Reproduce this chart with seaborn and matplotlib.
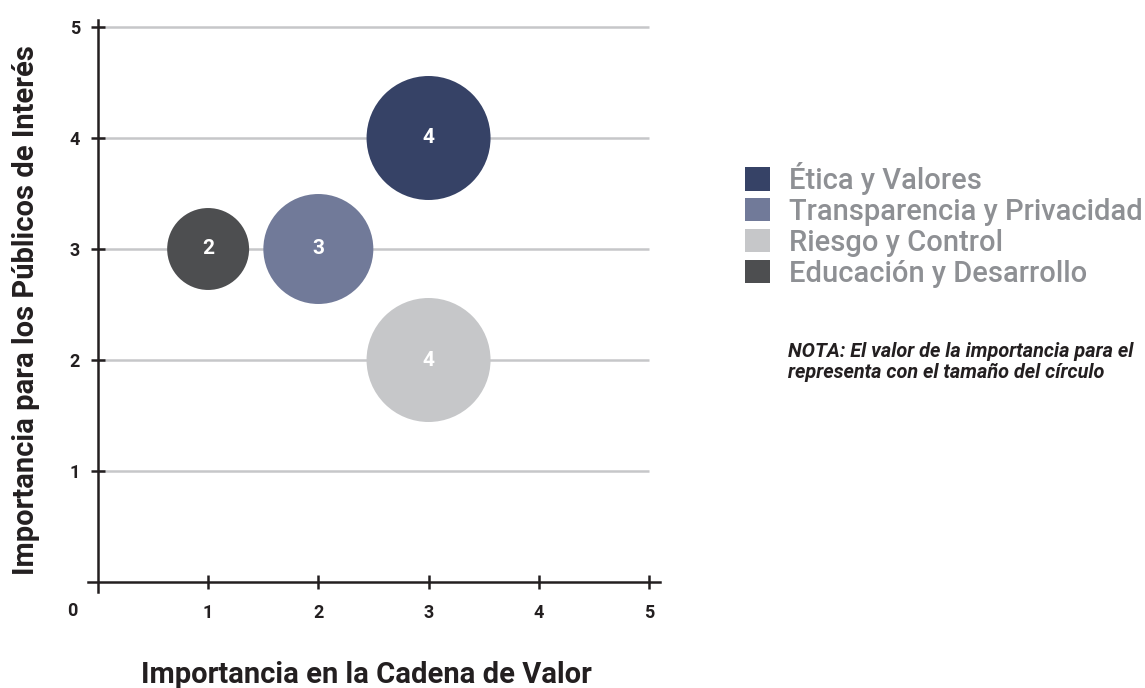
import matplotlib
matplotlib.use("Agg")
import matplotlib.pyplot as plt
import seaborn as sns
import pandas as pd
from matplotlib.patches import Patch

# ---- data ----
categories = ["Ética y Valores", "Transparencia y Privacidad", "Riesgo y Control", "Educación y Desarrollo"]
cadena_valor = [3, 2, 3, 1]          # x: Importancia en la Cadena de Valor
publicos = [4, 3, 2, 3]              # y: Importancia para los Públicos de Interés
importancia = [4, 3, 4, 2]           # bubble size value
x_ticks = [1, 2, 3, 4, 5]
y_ticks = [1, 2, 3, 4, 5]

# ---- style ----
colors = ["#364266", "#717a99", "#c6c7c9", "#4d4e50"]
palette = dict(zip(categories, colors))
size_areas = {2: 3480, 3: 6270, 4: 7970}

sns.set_theme(style="white")
plt.rcParams["font.family"] = ["Roboto", "DejaVu Sans"]

df = pd.DataFrame({"cat": categories, "x": cadena_valor, "y": publicos, "v": importancia})

fig = plt.figure(figsize=(11.45, 6.88), dpi=100)
ax = fig.add_axes([88 / 1145, 96 / 688, 572 / 1145, 572 / 688])

dark = "#231f20"
ax.hlines(y_ticks, 0, 5, colors="#c6c7c9", linewidth=1.8, zorder=0)

sns.scatterplot(data=df, x="x", y="y", hue="cat", size="v", sizes=size_areas,
                palette=palette, linewidth=0, legend=False, ax=ax, zorder=3, alpha=1)

for _, r in df.iterrows():
    ax.text(r["x"], r["y"], str(r["v"]), color="white", fontsize=15, fontweight="bold",
            ha="center", va="center", zorder=4)

ax.set_xlim(-0.09, 5.1)
ax.set_ylim(-0.09, 5.063)
for s in ["top", "right"]:
    ax.spines[s].set_visible(False)
for s in ["left", "bottom"]:
    ax.spines[s].set_position(("data", 0))
    ax.spines[s].set_color(dark)
    ax.spines[s].set_linewidth(1.8)

ax.set_xticks(x_ticks)
ax.set_yticks(y_ticks)
ax.set_xticklabels([str(t) for t in x_ticks])
ax.set_yticklabels([str(t) for t in y_ticks])
ax.tick_params(axis="both", which="major", bottom=True, left=True, direction="inout",
               length=10, width=1.8, color=dark, labelsize=13, labelcolor=dark)
ax.tick_params(axis="x", pad=11)
ax.tick_params(axis="y", pad=8)
for lab in ax.get_xticklabels() + ax.get_yticklabels():
    lab.set_fontweight("bold")
ax.annotate("0", xy=(0, 0), xytext=(-26, -29), textcoords="offset pixels",
            ha="center", va="center", fontsize=13, fontweight="bold", color=dark)

ax.set_xlabel("Importancia en la Cadena de Valor", fontsize=21, fontweight="bold", color=dark)
ax.set_ylabel("Importancia para los Públicos de Interés", fontsize=21, fontweight="bold", color=dark)
ax.xaxis.set_label_coords(0.486, -0.12)
ax.yaxis.set_label_coords(-0.084, 0.493)

handles = [Patch(facecolor=palette[c], edgecolor="none", label=c) for c in categories]
leg = fig.legend(handles=handles, loc="upper left", bbox_to_anchor=(745 / 1145, 1 - 162 / 688),
                 frameon=False, prop={"family": "Roboto", "size": 21, "weight": "medium"},
                 handlelength=0.85, handleheight=0.85,
                 handletextpad=0.65, labelspacing=0.1, borderaxespad=0, borderpad=0)
for t in leg.get_texts():
    t.set_color("#8e9094")

fig.text(788 / 1145, 1 - 362 / 688,
         "NOTA: El valor de la importancia para el\nrepresenta con el tamaño del círculo",
         fontsize=14.3, fontweight="bold", fontstyle="italic", color=dark,
         ha="left", va="center", linespacing=1.15)

fig.savefig("out.png", dpi=100)
